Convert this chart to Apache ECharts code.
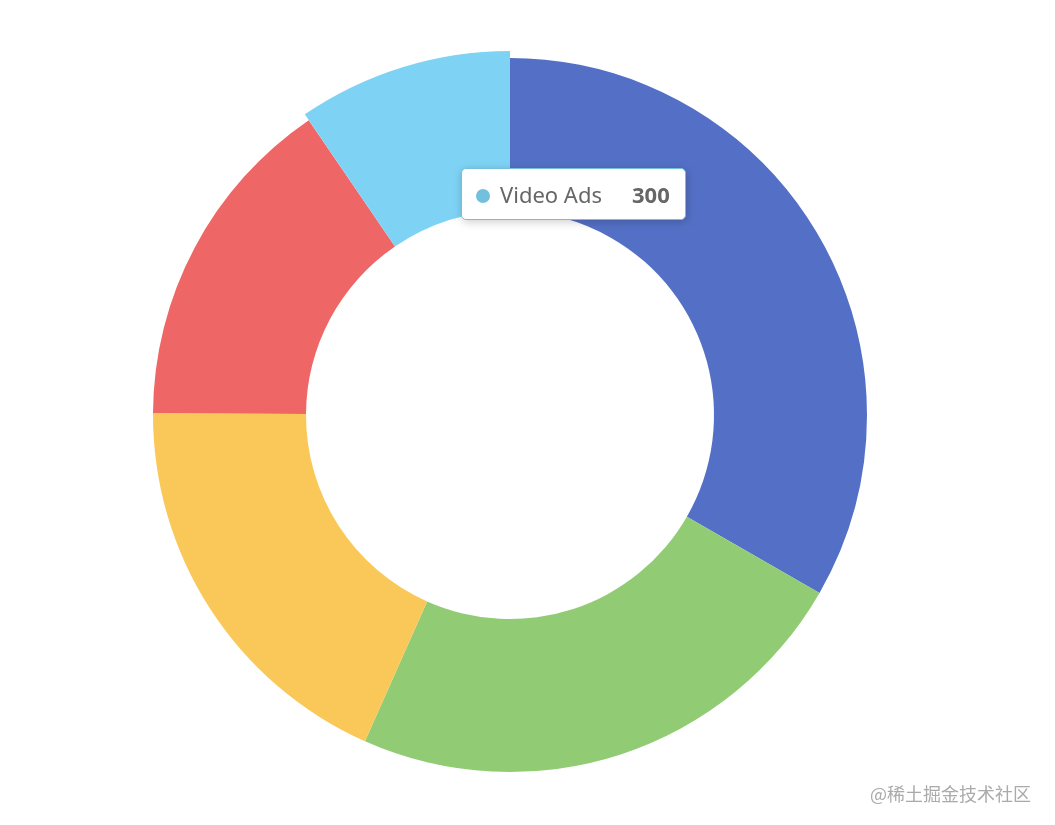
<!DOCTYPE html>
<html>
<head>
<meta charset="utf-8">
<script src="https://cdn.jsdelivr.net/npm/echarts@6/dist/echarts.min.js"></script>
<style>
html,body{margin:0;padding:0;background:#fff;}
#main{width:1055px;height:825px;}
</style>
</head>
<body>
<div id="main"></div>
<script>
var categories = ['Search Engine', 'Direct', 'Email', 'Union Ads', 'Video Ads'];
var values = [1048, 735, 580, 484, 300];
var colors = ['#5470c6', '#91cc75', '#fac858', '#ee6666', '#73c0de'];
var watermark = '@稀土掘金技术社区';

var chart = echarts.init(document.getElementById('main'));
var data = categories.map(function (c, i) { return { name: c, value: values[i] }; });

chart.setOption({
  animation: false,
  color: colors,
  tooltip: {
    trigger: 'item',
    alwaysShowContent: true,
    transitionDuration: 0,
    position: [461, 168],
    padding: [10, 15, 10, 14],
    backgroundColor: '#fff',
    borderWidth: 1,
    extraCssText: 'border-radius:5px;box-shadow:1px 2px 10px rgba(0,0,0,0.2);',
    formatter: function (p) {
      return '<div style="font-family:\'Microsoft YaHei\',\'Noto Sans\',sans-serif;font-size:22px;line-height:30px;color:#666;white-space:nowrap;">' +
        '<span style="display:inline-block;width:14px;height:14px;border-radius:7px;background:' + p.color + ';margin-right:10px;vertical-align:0px;"></span>' +
        '<span>' + p.name + '</span>' +
        '<span style="float:right;margin-left:30px;font-weight:bold;color:#666;">' + p.value + '</span></div>';
    }
  },
  graphic: [{
    type: 'text',
    right: 24,
    bottom: 22,
    style: {
      text: watermark,
      fill: '#aaa',
      font: '18px "Noto Sans CJK SC", sans-serif'
    }
  }],
  series: [{
    type: 'pie',
    center: [510, 415],
    radius: [204, 357],
    label: { show: false },
    labelLine: { show: false },
    emphasis: { scale: true, scaleSize: 7 },
    data: data
  }]
});

chart.dispatchAction({ type: 'highlight', seriesIndex: 0, dataIndex: 4 });
chart.dispatchAction({ type: 'showTip', seriesIndex: 0, dataIndex: 4 });
</script>
</body>
</html>
